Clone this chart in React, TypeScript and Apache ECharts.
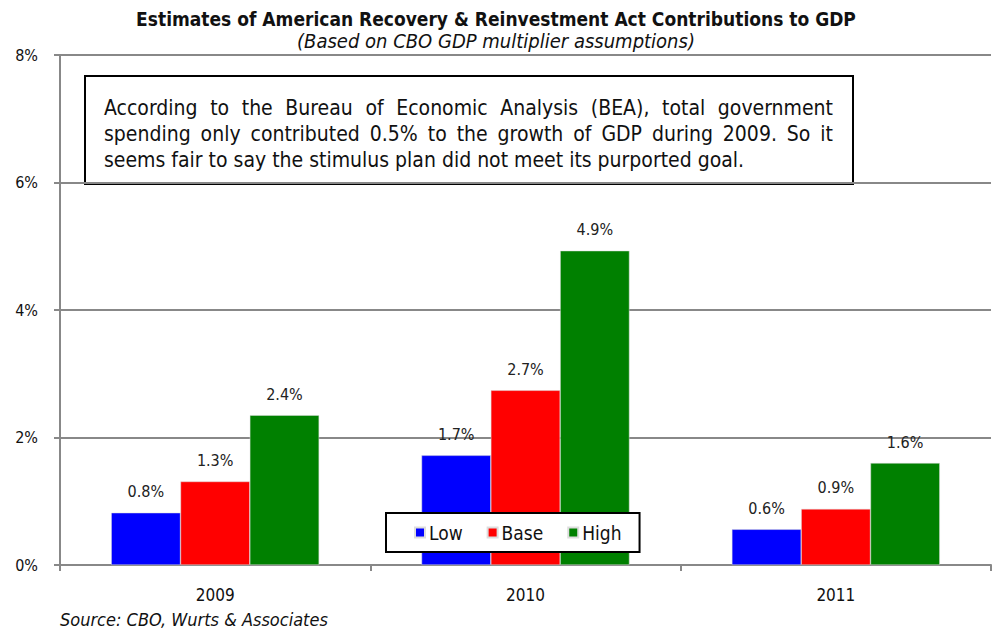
import React, { useEffect, useRef } from "react";
import * as echarts from "echarts";

const categories = ["2009", "2010", "2011"];
const lowValues = [0.82, 1.72, 0.56];
const baseValues = [1.31, 2.74, 0.88];
const highValues = [2.35, 4.93, 1.6];
const seriesNames = ["Low", "Base", "High"];
const seriesColors = ["#0000ff", "#ff0000", "#008000"];
const yTicks = [0, 2, 4, 6, 8];

const titleText = "Estimates of American Recovery & Reinvestment Act Contributions to GDP";
const subtitleText = "(Based on CBO GDP multiplier assumptions)";
const noteLines = [
  "According to the Bureau of Economic Analysis (BEA), total government",
  "spending only contributed 0.5% to the growth of GDP during 2009. So it",
  "seems fair to say the stimulus plan did not meet its purported goal.",
];
const sourceText = "Source: CBO, Wurts & Associates";

const FONT = "'DejaVu Sans Condensed', 'DejaVu Sans', sans-serif";

function measure(text: string, size: number): number {
  const c = document.createElement("canvas").getContext("2d")!;
  c.font = `${size}px ${FONT}`;
  return c.measureText(text).width;
}

function justifiedLine(line: string, x: number, y: number, width: number, size: number, justify: boolean) {
  if (!justify) {
    return [{ type: "text", x, y, style: { text: line, font: `${size}px ${FONT}`, fill: "#111", textVerticalAlign: "middle" } }];
  }
  const words = line.split(" ");
  const widths = words.map((w) => measure(w, size));
  const total = widths.reduce((a, b) => a + b, 0);
  const gap = (width - total) / (words.length - 1);
  const out: any[] = [];
  let cx = x;
  words.forEach((w, i) => {
    out.push({ type: "text", x: cx, y, style: { text: w, font: `${size}px ${FONT}`, fill: "#111", textVerticalAlign: "middle" } });
    cx += widths[i] + gap;
  });
  return out;
}

export default function App() {
  const ref = useRef<HTMLDivElement>(null);
  useEffect(() => {
    const chart = echarts.init(ref.current!, undefined, { renderer: "svg" });
    const dataSets = [lowValues, baseValues, highValues];
    const noteSize = 21;
    const noteChildren: any[] = [];
    noteLines.forEach((l, i) => {
      noteChildren.push(...justifiedLine(l, 104, 108 + i * 26, 729, noteSize, i < 2));
    });
    chart.setOption({
      animation: false,
      textStyle: { fontFamily: FONT },
      title: {
        text: titleText,
        subtext: subtitleText,
        left: "center",
        top: 4,
        itemGap: 3,
        textStyle: { fontSize: 19, fontWeight: "bold", color: "#111", fontFamily: FONT },
        subtextStyle: { fontSize: 20, fontStyle: "italic", color: "#111", fontFamily: FONT },
      },
      grid: { left: 60, right: 1, top: 55, bottom: 66 },
      legend: {
        data: seriesNames,
        left: 386,
        top: 513,
        icon: "rect",
        itemWidth: 10,
        itemHeight: 10,
        itemGap: 24,
        padding: [10, 18, 10, 28],
        borderColor: "#000",
        borderWidth: 2,
        backgroundColor: "#fff",
        textStyle: { fontSize: 19, color: "#111", fontFamily: FONT, padding: [0, 0, 0, -1] },
      },
      xAxis: {
        type: "category",
        data: categories,
        axisLine: { lineStyle: { color: "#888", width: 2 } },
        axisTick: { show: true, length: 6, lineStyle: { color: "#888", width: 2 } },
        axisLabel: { fontSize: 17, color: "#111", margin: 21 },
      },
      yAxis: {
        type: "value",
        min: 0,
        max: 8,
        interval: 2,
        axisLine: { show: true, lineStyle: { color: "#888", width: 2 } },
        axisTick: { show: true, length: 6, lineStyle: { color: "#888", width: 2 } },
        splitLine: { lineStyle: { color: "#888", width: 2 } },
        axisLabel: {
          fontSize: 16,
          color: "#111",
          margin: 22,
          formatter: (v: number) => (yTicks.includes(v) ? `${v}%` : ""),
        },
      },
      series: seriesNames.map((name, i) => ({
        name,
        type: "bar",
        data: dataSets[i],
        barGap: "0%",
        barCategoryGap: "33%",
        itemStyle: { color: seriesColors[i], borderColor: "#ddd", borderWidth: 0.5 },
        label: {
          show: true,
          position: "top",
          distance: 13,
          fontSize: 16,
          color: "#222",
          fontFamily: FONT,
          formatter: (p: any) => `${p.value.toFixed(1)}%`,
        },
      })),
      graphic: [
        {
          type: "group",
          z: 100,
          children: [
            { type: "rect", shape: { x: 85, y: 76, width: 768, height: 108 }, style: { fill: "#fff", stroke: "#000", lineWidth: 2 } },
            ...noteChildren,
          ],
        },
        {
          type: "text",
          x: 60,
          y: 619,
          style: { text: sourceText, font: `italic 18px ${FONT}`, fill: "#111", textVerticalAlign: "middle" },
        },
      ],
    });
    return () => chart.dispose();
  }, []);
  return <div ref={ref} style={{ width: 992, height: 631, position: "absolute", left: 0, top: 0 }} />;
}
